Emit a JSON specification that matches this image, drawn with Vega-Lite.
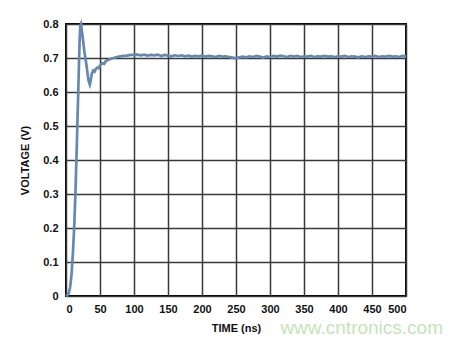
{
  "$schema": "https://vega.github.io/schema/vega-lite/v6.json",
  "width": 340,
  "height": 272,
  "autosize": {"type": "none"},
  "padding": {"left": 66, "top": 24, "right": 55, "bottom": 46},
  "background": "white",
  "config": {
    "font": "Liberation Sans",
    "view": {"stroke": "black", "strokeWidth": 2},
    "axis": {
      "labelFont": "Liberation Sans",
      "labelFontWeight": "bold",
      "labelFontSize": 11,
      "labelColor": "#111",
      "titleFont": "Liberation Sans",
      "titleFontWeight": "bold",
      "titleFontSize": 11,
      "titleColor": "#111",
      "gridColor": "#3a3a3a",
      "gridWidth": 1.5,
      "gridOpacity": 1,
      "domain": false,
      "ticks": false
    }
  },
  "title": {
    "text": "www.cntronics.com",
    "orient": "bottom",
    "anchor": "end",
    "frame": "group",
    "font": "Liberation Sans",
    "fontSize": 19,
    "fontWeight": "normal",
    "color": "#c4e4b8",
    "dx": 37,
    "dy": -14,
    "offset": 0
  },
  "data": {
    "values": [
      {"t": 0, "v": 0.0}, {"t": 2, "v": 0.002}, {"t": 4, "v": 0.008}, {"t": 6, "v": 0.025},
      {"t": 8, "v": 0.06}, {"t": 10, "v": 0.12}, {"t": 12, "v": 0.2}, {"t": 14, "v": 0.31},
      {"t": 16, "v": 0.45}, {"t": 18, "v": 0.6}, {"t": 20, "v": 0.75}, {"t": 21, "v": 0.795},
      {"t": 22, "v": 0.8}, {"t": 24, "v": 0.77}, {"t": 27, "v": 0.72}, {"t": 30, "v": 0.68},
      {"t": 33, "v": 0.635}, {"t": 35, "v": 0.622}, {"t": 36, "v": 0.63}, {"t": 38, "v": 0.655},
      {"t": 40, "v": 0.663}, {"t": 42, "v": 0.66}, {"t": 44, "v": 0.668}, {"t": 46, "v": 0.672},
      {"t": 48, "v": 0.67}, {"t": 50, "v": 0.678}, {"t": 53, "v": 0.685}, {"t": 56, "v": 0.683},
      {"t": 59, "v": 0.692}, {"t": 62, "v": 0.694}, {"t": 65, "v": 0.697}, {"t": 70, "v": 0.7},
      {"t": 75, "v": 0.703}, {"t": 80, "v": 0.705}, {"t": 85, "v": 0.706}, {"t": 90, "v": 0.707},
      {"t": 95, "v": 0.709}, {"t": 100, "v": 0.709}, {"t": 105, "v": 0.71}, {"t": 110, "v": 0.708},
      {"t": 115, "v": 0.71}, {"t": 120, "v": 0.707}, {"t": 125, "v": 0.709}, {"t": 130, "v": 0.708},
      {"t": 135, "v": 0.71}, {"t": 140, "v": 0.706}, {"t": 145, "v": 0.709}, {"t": 150, "v": 0.707},
      {"t": 155, "v": 0.705}, {"t": 160, "v": 0.708}, {"t": 165, "v": 0.706}, {"t": 170, "v": 0.708},
      {"t": 175, "v": 0.705}, {"t": 180, "v": 0.707}, {"t": 185, "v": 0.704}, {"t": 190, "v": 0.706},
      {"t": 195, "v": 0.705}, {"t": 200, "v": 0.707}, {"t": 205, "v": 0.704}, {"t": 210, "v": 0.706},
      {"t": 215, "v": 0.705}, {"t": 220, "v": 0.703}, {"t": 225, "v": 0.706}, {"t": 230, "v": 0.704},
      {"t": 235, "v": 0.705}, {"t": 240, "v": 0.703}, {"t": 245, "v": 0.701}, {"t": 250, "v": 0.699},
      {"t": 255, "v": 0.702}, {"t": 260, "v": 0.704}, {"t": 265, "v": 0.702}, {"t": 270, "v": 0.705},
      {"t": 275, "v": 0.703}, {"t": 280, "v": 0.706}, {"t": 285, "v": 0.704}, {"t": 290, "v": 0.701},
      {"t": 295, "v": 0.705}, {"t": 300, "v": 0.703}, {"t": 305, "v": 0.706}, {"t": 310, "v": 0.704},
      {"t": 315, "v": 0.707}, {"t": 320, "v": 0.705}, {"t": 325, "v": 0.703}, {"t": 330, "v": 0.706},
      {"t": 335, "v": 0.704}, {"t": 340, "v": 0.706}, {"t": 345, "v": 0.703}, {"t": 350, "v": 0.705},
      {"t": 355, "v": 0.704}, {"t": 360, "v": 0.706}, {"t": 365, "v": 0.703}, {"t": 370, "v": 0.705},
      {"t": 375, "v": 0.704}, {"t": 380, "v": 0.706}, {"t": 385, "v": 0.704}, {"t": 390, "v": 0.705},
      {"t": 395, "v": 0.703}, {"t": 400, "v": 0.705}, {"t": 405, "v": 0.704}, {"t": 410, "v": 0.706},
      {"t": 415, "v": 0.703}, {"t": 420, "v": 0.705}, {"t": 425, "v": 0.704}, {"t": 430, "v": 0.702},
      {"t": 435, "v": 0.705}, {"t": 440, "v": 0.703}, {"t": 445, "v": 0.705}, {"t": 450, "v": 0.704},
      {"t": 455, "v": 0.706}, {"t": 460, "v": 0.703}, {"t": 465, "v": 0.705}, {"t": 470, "v": 0.704},
      {"t": 475, "v": 0.706}, {"t": 480, "v": 0.704}, {"t": 485, "v": 0.705}, {"t": 490, "v": 0.703},
      {"t": 495, "v": 0.706}, {"t": 500, "v": 0.705}
    ]
  },
  "mark": {"type": "line", "color": "#6688b0", "strokeWidth": 2.7, "clip": false},
  "encoding": {
    "x": {
      "field": "t", "type": "quantitative",
      "scale": {"domain": [0, 500], "nice": false},
      "axis": {"values": [0, 50, 100, 150, 200, 250, 300, 350, 400, 450, 500], "title": "TIME (ns)", "labelPadding": 7, "titlePadding": 8}
    },
    "y": {
      "field": "v", "type": "quantitative",
      "scale": {"domain": [0, 0.8], "nice": false},
      "axis": {"values": [0, 0.1, 0.2, 0.3, 0.4, 0.5, 0.6, 0.7, 0.8], "format": "~g", "title": "VOLTAGE (V)", "labelPadding": 8, "titlePadding": 12}
    }
  }
}
